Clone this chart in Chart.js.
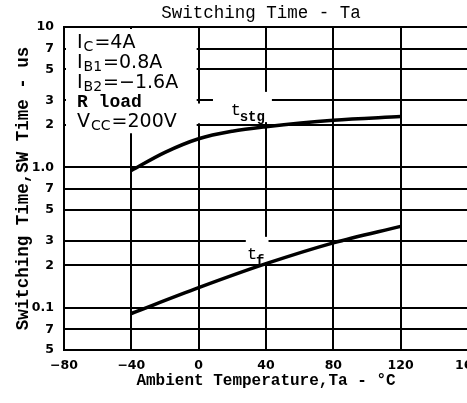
<!DOCTYPE html>
<html>
<head>
<meta charset="utf-8">
<script src="https://cdn.jsdelivr.net/npm/chart.js@4"></script>
<style>
  html, body { margin: 0; padding: 0; background: #fff; overflow: hidden; }
  canvas { display: block; }
</style>
</head>
<body>
<canvas id="swChart" width="522" height="403"></canvas>
<script>
// Ta (°C) and switching times (us)
const tempStg = [-40, -20, 0, 20, 40, 80, 120];
const tstgValues = [0.95, 1.28, 1.60, 1.81, 1.95, 2.17, 2.30];
const tempTf = [-40, 0, 40, 80, 120];
const tfValues = [0.091, 0.139, 0.206, 0.29, 0.38];

// axis ticks
const yTickValues = [0.05, 0.07, 0.1, 0.2, 0.3, 0.5, 0.7, 1, 2, 3, 5, 7, 10];
const yTickLabels = ['5', '7', '0.1', '2', '3', '5', '7', '1.0', '2', '3', '5', '7', '10'];
const xTickLabels = ['\u221280', '\u221240', '0', '40', '80', '120', '160'];

// test conditions box: [main, subscript, rest]
const conditions = [
    ['I', 'C', '=4A'],
    ['I', 'B1', '=0.8A'],
    ['I', 'B2', '=\u22121.6A'],
    ['R load', '', ''],
    ['V', 'CC', '=200V']
];

const MONO = '"Liberation Mono", "DejaVu Sans Mono", monospace';
const SANS = '"DejaVu Sans", sans-serif';

// white patches: the conditions box and the gaps behind the curve labels
const maskPlugin = {
    id: 'masks',
    beforeDatasetsDraw(chart) {
        const { ctx, scales: { x, y } } = chart;
        const rect = (x0, x1, y0, y1, inset) => {
            const l = x.getPixelForValue(x0) + inset, r = x.getPixelForValue(x1) - inset;
            const t = y.getPixelForValue(y0) + inset, b = y.getPixelForValue(y1);
            ctx.fillRect(l, t, r - l, b - t);
        };
        ctx.save();
        ctx.fillStyle = '#fff';
        rect(-80, 0, 10, 1.75, 2);     // conditions box
        rect(8.5, 43.5, 3.45, 2.1, 0); // t_stg label
        rect(-3, 8.5, 2.85, 2.06, 0);
        rect(28, 41.5, 0.32, 0.21, 0); // t_f label
        ctx.restore();
    }
};

// conditions text and curve names
const textPlugin = {
    id: 'texts',
    afterDraw(chart) {
        const { ctx, scales: { x, y } } = chart;
        ctx.save();
        ctx.fillStyle = '#000';
        ctx.textBaseline = 'alphabetic';
        conditions.forEach((c, i) => {
            let px = 77;
            const base = 48 + i * 19.8;
            if (c[1] === '') {
                ctx.font = 'bold 18px ' + MONO;
                ctx.fillText(c[0], px, base);
                return;
            }
            ctx.font = '19px ' + SANS;
            ctx.fillText(c[0], px, base);
            px += ctx.measureText(c[0]).width + 1;
            ctx.font = '14px ' + SANS;
            ctx.fillText(c[1], px, base + 3);
            px += ctx.measureText(c[1]).width + 1;
            ctx.font = '19px ' + SANS;
            ctx.fillText(c[2], px, base);
        });

        const label = (tx, ty, main, sub) => {
            const px = x.getPixelForValue(tx), py = y.getPixelForValue(ty);
            ctx.font = '17px ' + MONO;
            ctx.fillText(main, px, py);
            ctx.font = 'bold 14px ' + MONO;
            ctx.fillText(sub, px + 9, py + 6);
        };
        label(19, 2.35, 't', 'stg');
        label(28.7, 0.224, 't', 'f');
        ctx.restore();
    }
};

function toPoints(xs, ys) {
    return xs.map((t, i) => ({ x: t, y: ys[i] }));
}

const ctx = document.getElementById('swChart').getContext('2d');
new Chart(ctx, {
    type: 'line',
    data: {
        datasets: [
            {
                label: 'tstg',
                data: toPoints(tempStg, tstgValues),
                borderColor: '#000',
                borderWidth: 3.5,
                pointRadius: 0,
                cubicInterpolationMode: 'monotone'
            },
            {
                label: 'tf',
                data: toPoints(tempTf, tfValues),
                borderColor: '#000',
                borderWidth: 3.5,
                pointRadius: 0,
                cubicInterpolationMode: 'monotone'
            }
        ]
    },
    options: {
        responsive: false,
        animation: false,
        devicePixelRatio: 1,
        layout: { padding: 0 },
        plugins: {
            legend: { display: false },
            tooltip: { enabled: false },
            title: {
                display: true,
                text: 'Switching Time - Ta',
                color: '#000',
                font: { family: MONO, size: 17.5, weight: 'normal' },
                padding: { top: 3, bottom: 3 }
            }
        },
        scales: {
            x: {
                type: 'linear',
                min: -80,
                max: 160,
                ticks: {
                    stepSize: 40,
                    color: '#000',
                    padding: 8,
                    font: { family: '"DejaVu Sans"', size: 12.5, weight: 'bold' },
                    callback: (v, i) => xTickLabels[i]
                },
                grid: { color: '#000', lineWidth: 2, drawTicks: false },
                border: { color: '#000', width: 2 },
                title: {
                    display: true,
                    text: 'Ambient Temperature,Ta - \u00b0C',
                    color: '#000',
                    font: { family: MONO, size: 16, weight: 'bold' },
                    padding: { top: 0, bottom: 12 }
                },
                afterFit: s => { s.height = 53; }
            },
            y: {
                type: 'logarithmic',
                min: 0.05,
                max: 10,
                afterBuildTicks: s => { s.ticks = yTickValues.map(v => ({ value: v })); },
                ticks: {
                    autoSkip: false,
                    color: '#000',
                    padding: 10,
                    font: { family: '"DejaVu Sans"', size: 12.5, weight: 'bold' },
                    callback: (v, i) => yTickLabels[i]
                },
                grid: { color: '#000', lineWidth: 2, drawTicks: false },
                border: { color: '#000', width: 2 },
                title: {
                    display: true,
                    text: 'Switching Time,SW Time - us',
                    color: '#000',
                    font: { family: MONO, size: 17.5, weight: 'bold' },
                    padding: { top: 13, bottom: 0 }
                },
                afterFit: s => { s.width = 64; }
            },
            // empty right-hand axis so the plot runs out past the window edge
            spacer: {
                type: 'linear',
                position: 'right',
                display: true,
                grid: { display: false },
                ticks: { display: false },
                border: { display: false },
                afterFit: s => { s.width = 54; }
            }
        }
    },
    plugins: [maskPlugin, textPlugin]
});
</script>
</body>
</html>
